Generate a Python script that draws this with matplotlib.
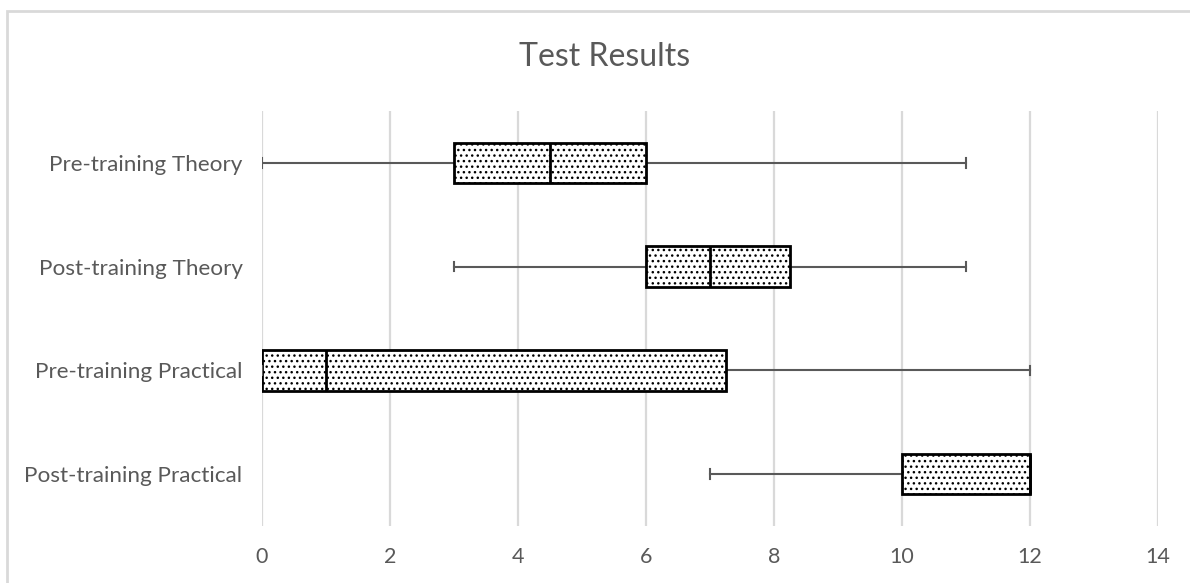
import matplotlib
matplotlib.use("Agg")
import matplotlib.pyplot as plt
from matplotlib.patches import Rectangle

plt.rcParams['font.family'] = ['Lato', 'DejaVu Sans']
plt.rcParams['hatch.linewidth'] = 1.0

# five-number summaries
categories = ["Pre-training Theory", "Post-training Theory",
              "Pre-training Practical", "Post-training Practical"]
mins = [0, 3, 0, 7]
q1s = [3, 6, 0, 10]
medians = [4.5, 7, 1, 12]
q3s = [6, 8.25, 7.25, 12]
maxs = [11, 11, 12, 12]

text_col = "#595959"
grid_col = "#d9d9d9"

fig = plt.figure(figsize=(11.9, 5.83), dpi=100)
ax = fig.add_axes([262 / 1190, 1 - 526 / 583, 896 / 1190, 415 / 583])

# outer chart border (cropped on right/bottom like the original)
fig.patches.append(Rectangle((7 / 1190, -0.1), 1.2, 1 - 10.5 / 583 + 0.1,
                             transform=fig.transFigure, fill=False,
                             edgecolor=grid_col, linewidth=2))

stats = []
for i, name in enumerate(categories):
    stats.append({'label': name, 'whislo': mins[i], 'q1': q1s[i], 'med': medians[i],
                  'q3': q3s[i], 'whishi': maxs[i], 'fliers': []})

positions = list(range(len(categories)))[::-1]
bp = ax.bxp(stats, positions=positions, vert=False, widths=0.39, patch_artist=True,
            showfliers=False, capwidths=0.09,
            boxprops=dict(facecolor="white", edgecolor="black", linewidth=2, hatch="..."),
            medianprops=dict(color="black", linewidth=2),
            whiskerprops=dict(color=text_col, linewidth=1.5),
            capprops=dict(color=text_col, linewidth=1.5))
for w in bp['whiskers']:
    w.set_zorder(1)

ax.set_xlim(0, 14)
ax.set_ylim(-0.5, 3.5)
ax.set_xticks(range(0, 15, 2))
ax.xaxis.grid(True, color=grid_col, linewidth=1.6)
ax.set_axisbelow(True)
for s in ax.spines.values():
    s.set_visible(False)
ax.tick_params(axis='both', length=0, colors=text_col, labelsize=15.5)
ax.tick_params(axis='y', labelsize=16.2, pad=14)
ax.tick_params(axis='x', pad=15)

fig.text(605 / 1190, 1 - 57 / 583, "Test Results", ha="center", va="center",
         fontsize=23, color=text_col)

fig.savefig("out.png", dpi=100)
